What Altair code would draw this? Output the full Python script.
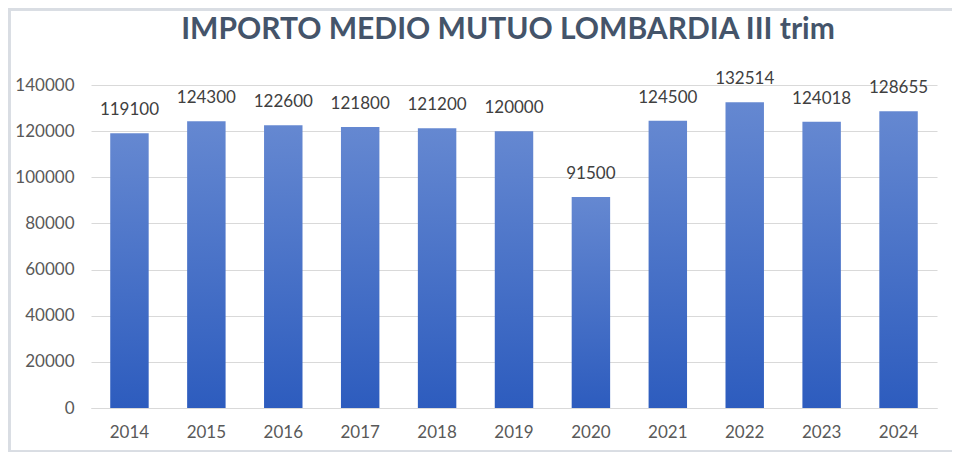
import pandas as pd
import altair as alt

# Values
years = ["2014", "2015", "2016", "2017", "2018", "2019", "2020", "2021", "2022", "2023", "2024"]
amounts = [119100, 124300, 122600, 121800, 121200, 120000, 91500, 124500, 132514, 124018, 128655]
y_ticks = [0, 20000, 40000, 60000, 80000, 100000, 120000, 140000]

df = pd.DataFrame({"anno": years, "importo": amounts})

FONT = "Lato"

x_enc = alt.X("anno:N", title=None, sort=years,
              scale=alt.Scale(paddingInner=0.5, paddingOuter=0.25),
              axis=alt.Axis(labelAngle=0, labelPadding=16, labelFontSize=17,
                            labelColor="#595959", labelFont=FONT,
                            domain=True, domainColor="#d9d9d9", ticks=False, grid=False))
y_enc = alt.Y("importo:Q", title=None,
              scale=alt.Scale(domain=[0, 140000], nice=False),
              axis=alt.Axis(values=y_ticks, format="d", labelPadding=17, labelFontSize=17,
                            labelColor="#595959", labelFont=FONT,
                            domain=False, ticks=False, grid=True,
                            gridColor="#d9d9d9", gridWidth=1))

base = alt.Chart(df).encode(x=x_enc, y=y_enc)

# bars with a top-to-bottom blue gradient, like the Excel original
bars = base.mark_bar(
    color=alt.Gradient(
        gradient="linear", x1=0, y1=0, x2=0, y2=1,
        stops=[alt.GradientStop(color="#6588d1", offset=0),
               alt.GradientStop(color="#2d5cbe", offset=1)],
    )
)

labels = base.mark_text(baseline="bottom", dy=-14, fontSize=17, font=FONT,
                        color="#404040").encode(text=alt.Text("importo:Q", format="d"))

# light grey frame round the whole chart
frame = alt.Chart(df).mark_rect(filled=False, stroke="#d9dde3", strokeWidth=3).encode(
    x=alt.value(-82), x2=alt.value(863), y=alt.value(-76), y2=alt.value(367)
)

chart = (bars + labels + frame).properties(
    width=846,
    height=323,
    autosize=alt.AutoSizeParams(type="none"),
    padding={"left": 83, "top": 77, "right": 15, "bottom": 44},
    title=alt.TitleParams("IMPORTO MEDIO MUTUO LOMBARDIA III trim", fontSize=30,
                          font=FONT, fontWeight="bold", color="#44546a",
                          anchor="middle", offset=-37, dx=-6),
).configure(background="white").configure_view(stroke=None)

chart.save("out.html", embed_options={"renderer": "svg", "actions": False})
